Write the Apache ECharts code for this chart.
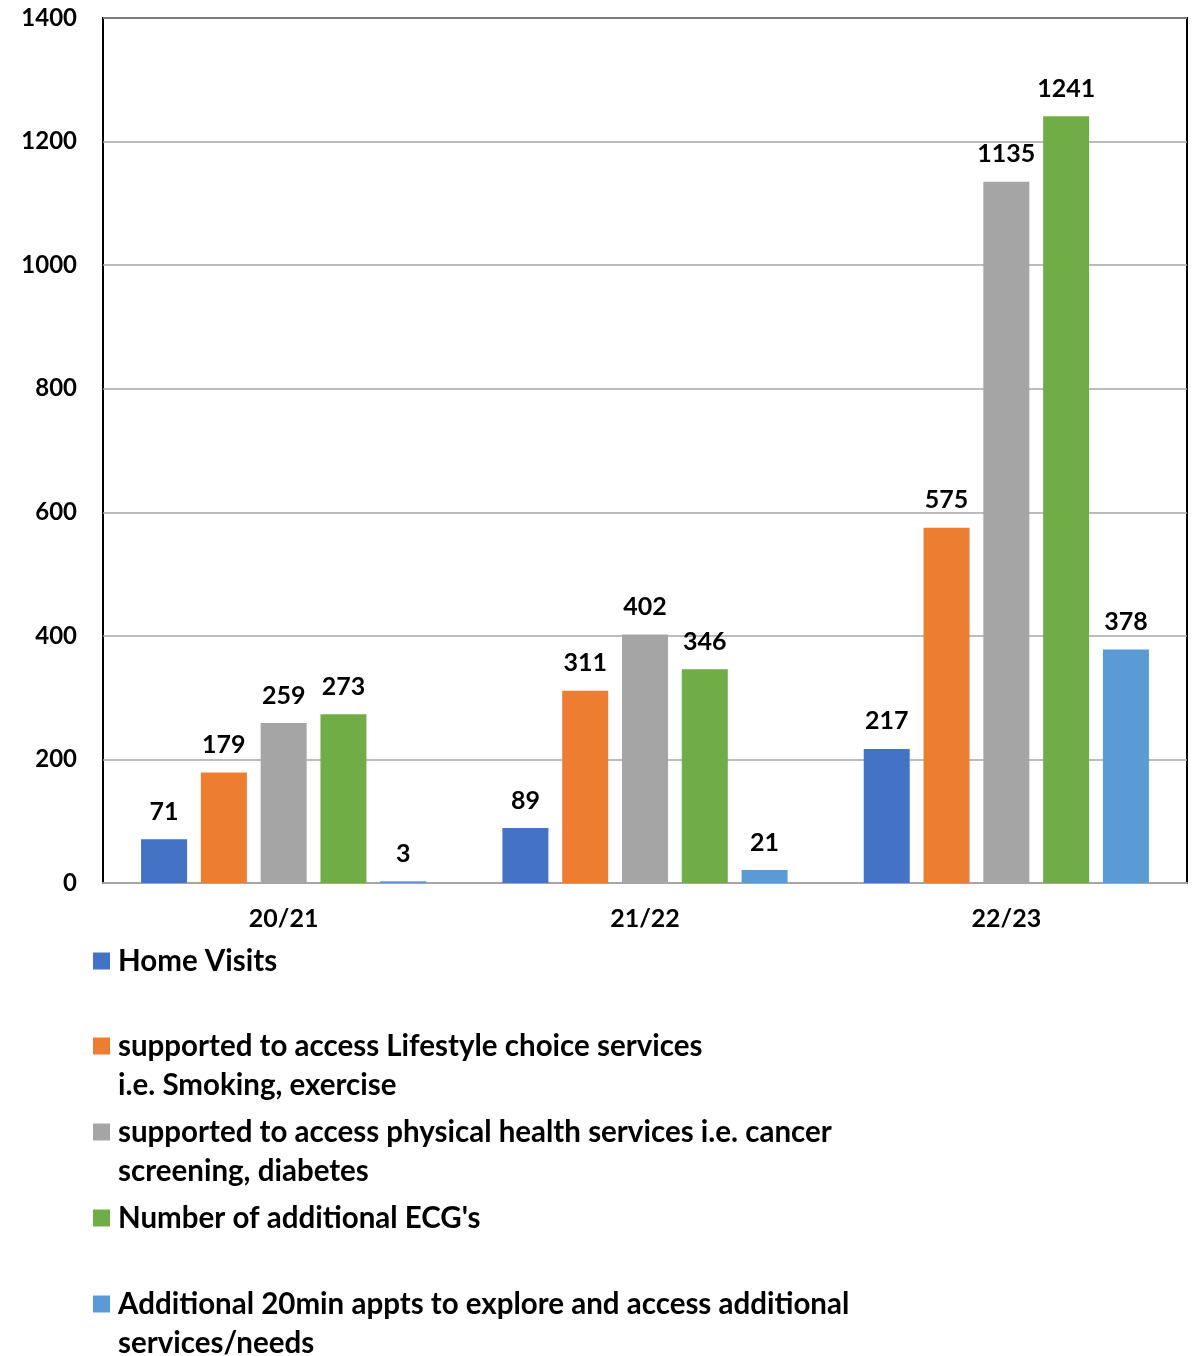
<!DOCTYPE html>
<html>
<head>
<meta charset="utf-8">
<script src="https://cdn.jsdelivr.net/npm/echarts@6/dist/echarts.min.js"></script>
<style>
html,body{margin:0;padding:0;background:#fff;}
#c{width:1196px;height:1356px;}
</style>
</head>
<body>
<div id="c"></div>
<script>
const categories = ['20/21', '21/22', '22/23'];
const seriesNames = [
  'Home Visits',
  'supported to access Lifestyle choice services i.e. Smoking, exercise',
  'supported to access physical health services i.e. cancer screening, diabetes',
  "Number of additional ECG's",
  'Additional 20min appts to explore and access additional services/needs'
];
const legendLabels = [
  'Home Visits',
  'supported to access Lifestyle choice services\ni.e. Smoking, exercise',
  'supported to access physical health services i.e. cancer\nscreening, diabetes',
  "Number of additional ECG's",
  'Additional 20min appts to explore and access additional\nservices/needs'
];
const homeVisits = [71, 89, 217];
const lifestyle = [179, 311, 575];
const physical = [259, 402, 1135];
const ecgs = [273, 346, 1241];
const appts = [3, 21, 378];
const yTicks = [0, 200, 400, 600, 800, 1000, 1200, 1400];
const colors = ['#4472C4', '#ED7D31', '#A5A5A5', '#70AD47', '#5B9BD5'];

const FONT = 'Lato';
const seriesData = [homeVisits, lifestyle, physical, ecgs, appts];
const iconCenters = [961, 1046, 1132, 1218, 1304];
const LH = 39;

const legends = seriesNames.map((name, i) => {
  const twoLine = legendLabels[i].indexOf('\n') >= 0;
  return {
    orient: 'vertical',
    left: 93,
    top: twoLine ? iconCenters[i] - 1.5 * LH : iconCenters[i] - 0.5 * LH,
    padding: 0,
    itemWidth: 17,
    itemHeight: 17,
    icon: 'rect',
    selectedMode: false,
    data: [name],
    // leading empty line keeps the first text line level with the icon
    formatter: () => (twoLine ? '\n' : '') + legendLabels[i],
    textStyle: {
      fontFamily: FONT,
      fontWeight: 'bold',
      fontSize: 29.5,
      color: '#000',
      lineHeight: LH,
      padding: [0, 0, 0, 3]
    }
  };
});

const chart = echarts.init(document.getElementById('c'));
chart.setOption({
  animation: false,
  color: colors,
  grid: {
    left: 103, right: 9, top: 18, bottom: 473,
    show: true, borderColor: '#000', borderWidth: 2, backgroundColor: 'transparent'
  },
  legend: legends,
  xAxis: {
    type: 'category',
    data: categories,
    axisLine: { show: true, lineStyle: { color: '#A6A6A6', width: 2 } },
    axisTick: { show: false },
    axisLabel: { fontFamily: FONT, fontWeight: 'bold', fontSize: 25, color: '#000', margin: 23 }
  },
  yAxis: {
    type: 'value',
    min: yTicks[0],
    max: yTicks[yTicks.length - 1],
    interval: yTicks[1] - yTicks[0],
    axisLine: { show: false },
    axisTick: { show: false },
    splitLine: { lineStyle: { color: '#A6A6A6', width: 1.5 } },
    axisLabel: {
      fontFamily: FONT, fontWeight: 'bold', fontSize: 24, color: '#000', margin: 26,
      formatter: v => String(v)
    }
  },
  series: seriesNames.map((name, i) => ({
    name: name,
    type: 'bar',
    data: seriesData[i],
    barWidth: 46,
    barGap: '30%',
    itemStyle: { color: colors[i] },
    label: {
      show: true,
      position: 'top',
      distance: 15,
      fontFamily: FONT,
      fontWeight: 'bold',
      fontSize: 25,
      color: '#000'
    }
  }))
});
</script>
</body>
</html>
